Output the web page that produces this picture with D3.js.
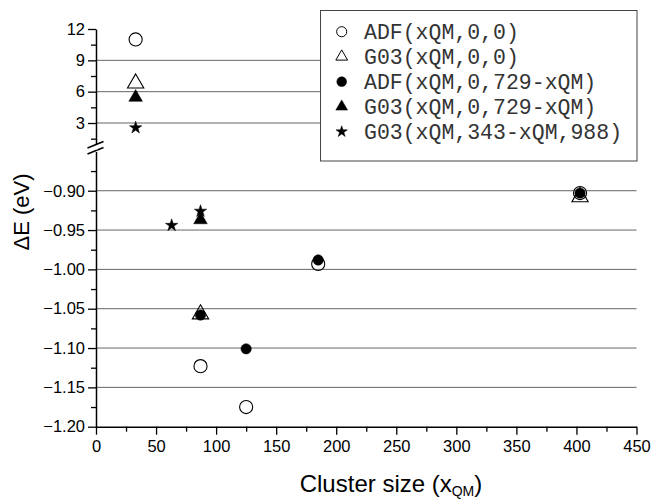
<!DOCTYPE html>
<html><head><meta charset="utf-8">
<script src="https://cdn.jsdelivr.net/npm/d3@7"></script>
<style>body{margin:0;background:#fff}svg{display:block}</style>
</head><body>
<svg id="c" width="655" height="500"></svg>
<script>
// ---- data ----
const legendLabels = ["ADF(xQM,0,0)", "G03(xQM,0,0)", "ADF(xQM,0,729-xQM)", "G03(xQM,0,729-xQM)", "G03(xQM,343-xQM,988)"];
const adfVacX = [33, 87, 125, 185, 403];
const adfVacY = [11.0, -1.123, -1.175, -0.993, -0.903];
const g03VacX = [33, 87, 403];
const g03VacY = [6.8, -1.057, -0.908];
const adfEmbX = [87, 125, 185, 403];
const adfEmbY = [-1.058, -1.101, -0.988, -0.903];
const g03EmbX = [33, 87];
const g03EmbY = [5.45, -0.937];
const g03FullX = [33, 63, 87];
const g03FullY = [2.55, -0.944, -0.926];
const xTicks = [0, 50, 100, 150, 200, 250, 300, 350, 400, 450];
const yTicksUpper = [3, 6, 9, 12];
const yTicksLower = [-0.90, -0.95, -1.00, -1.05, -1.10, -1.15, -1.20];
const yMinorUpper = [1.5, 4.5, 7.5, 10.5];
const yMinorLower = [-0.875, -0.925, -0.975, -1.025, -1.075, -1.125, -1.175];
const xMinor = [25, 75, 125, 175, 225, 275, 325, 375, 425];

// ---- layout ----
const svg = d3.select("#c");
const F = "'Liberation Sans', Arial, sans-serif";
const x = d3.scaleLinear().domain([0, 450]).range([96, 636.5]);
const yU = d3.scaleLinear().domain([1, 12]).range([143.9, 29]);
const yL = d3.scaleLinear().domain([-1.20, -0.85]).range([426.7, 151.4]);
const y = v => v > 0 ? yU(v) : yL(v);

// gridlines
const gridVals = [3, 6, 9, -0.90, -0.95, -1.00, -1.05, -1.10, -1.15];
svg.append("g").selectAll("line").data(gridVals).join("line")
  .attr("x1", x(0)).attr("x2", x(450))
  .attr("y1", d => y(d)).attr("y2", d => y(d))
  .attr("stroke", "#666").attr("stroke-width", 1);

// axes
const axStyle = g => {
  g.selectAll("path").attr("stroke", "#000").attr("stroke-width", 1.5);
  g.selectAll(".tick line").attr("stroke", "#000").attr("stroke-width", 1.3);
  g.selectAll("text").attr("font-family", F).attr("font-size", 16.5).attr("fill", "#000");
};
const fmt2 = d3.format(".2f");
svg.append("g").attr("transform", `translate(${x(0)},0)`)
  .call(d3.axisLeft(yU).tickValues(yTicksUpper).tickSize(8).tickSizeOuter(0).tickPadding(3).tickFormat(d3.format("d")))
  .call(axStyle);
svg.append("g").attr("transform", `translate(${x(0)},0)`)
  .call(d3.axisLeft(yU).tickValues(yMinorUpper).tickSize(5).tickSizeOuter(0).tickFormat(""))
  .call(axStyle).select("path").remove();
svg.append("g").attr("transform", `translate(${x(0)},0)`)
  .call(d3.axisLeft(yL).tickValues(yTicksLower).tickSize(8).tickSizeOuter(0).tickPadding(3).tickFormat(fmt2))
  .call(axStyle);
svg.append("g").attr("transform", `translate(${x(0)},0)`)
  .call(d3.axisLeft(yL).tickValues(yMinorLower).tickSize(5).tickSizeOuter(0).tickFormat(""))
  .call(axStyle).select("path").remove();
svg.append("g").attr("transform", `translate(0,${yL(-1.20)})`)
  .call(d3.axisBottom(x).tickValues(xTicks).tickSize(8).tickSizeOuter(0).tickPadding(6).tickFormat(d3.format("d")))
  .call(axStyle);
svg.append("g").attr("transform", `translate(0,${yL(-1.20)})`)
  .call(d3.axisBottom(x).tickValues(xMinor).tickSize(5).tickSizeOuter(0).tickFormat(""))
  .call(axStyle).select("path").remove();

// break marks
const bx = x(0);
[[0, 0], [0, 6]].forEach(([dx, dy]) => {
  svg.append("line").attr("x1", bx - 8.5).attr("y1", 148 + dy).attr("x2", bx + 7.5).attr("y2", 141.5 + dy)
    .attr("stroke", "#000").attr("stroke-width", 1.5);
});
svg.append("line").attr("x1", bx).attr("x2", bx).attr("y1", 146.5).attr("y2", 149.5)
  .attr("stroke", "#fff").attr("stroke-width", 3);

// axis labels
svg.append("text").attr("transform", "translate(29,212) rotate(-90)")
  .attr("text-anchor", "middle").attr("font-family", F).attr("font-size", 22).text("ΔE (eV)");
const xl = svg.append("text").attr("x", 391).attr("y", 492).attr("text-anchor", "middle")
  .attr("font-family", F).attr("font-size", 24);
xl.append("tspan").text("Cluster size (x");
xl.append("tspan").attr("font-size", 14).attr("dy", 4).text("QM");
xl.append("tspan").attr("dy", -4).text(")");

// symbols
const styles = [
  {type: d3.symbolCircle, size: 135, fill: "none", lsize: 80},
  {type: d3.symbolTriangle, size: 115, fill: "none", lsize: 60},
  {type: d3.symbolCircle, size: 85, fill: "#000", lsize: 75},
  {type: d3.symbolTriangle, size: 80, fill: "#000", lsize: 60},
  {type: d3.symbolStar, size: 48, fill: "#000", lsize: 40}
];
const seriesX = [adfVacX, g03VacX, adfEmbX, g03EmbX, g03FullX];
const seriesY = [adfVacY, g03VacY, adfEmbY, g03EmbY, g03FullY];
const marks = svg.append("g");
seriesX.forEach((xs, i) => {
  const st = styles[i];
  const pts = xs.map((v, j) => [v, seriesY[i][j]]);
  marks.append("g").selectAll("path").data(pts).join("path")
    .attr("d", d3.symbol().type(st.type).size(st.size))
    .attr("transform", d => `translate(${x(d[0])},${y(d[1])})`)
    .attr("fill", st.fill).attr("stroke", "#000").attr("stroke-width", st.fill === "none" ? 1.1 : 0.5);
});

// legend
const lg = svg.append("g");
lg.append("rect").attr("x", 320.5).attr("y", 10.5).attr("width", 316.5).attr("height", 150.5)
  .attr("fill", "#fff").attr("stroke", "#444").attr("stroke-width", 1);
legendLabels.forEach((lab, i) => {
  const cy = 31.7 + i * 25;
  const st = styles[i];
  lg.append("path").attr("d", d3.symbol().type(st.type).size(st.lsize)())
    .attr("transform", `translate(341.7,${cy})`)
    .attr("fill", st.fill).attr("stroke", "#000").attr("stroke-width", st.fill === "none" ? 1 : 0.5);
  lg.append("text").attr("x", 364).attr("y", cy + 7).attr("font-family", "'Liberation Mono', 'Courier New', monospace")
    .attr("font-size", 21.5).attr("fill", "#333").text(lab);
});
</script>
</body></html>
